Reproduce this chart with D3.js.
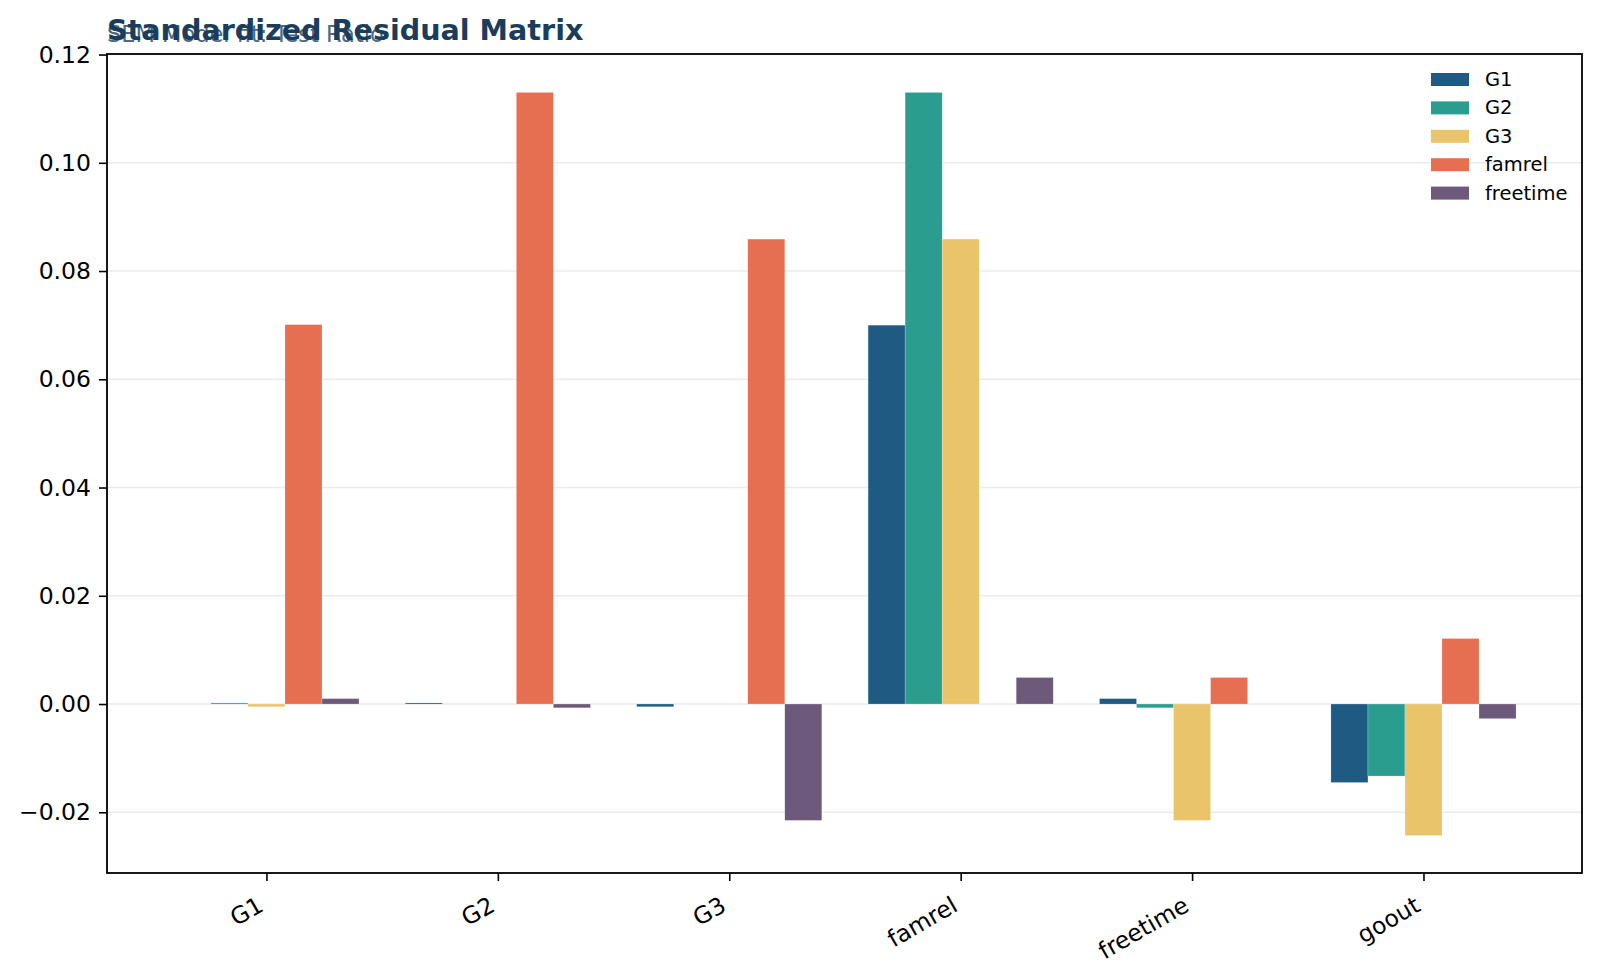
<!DOCTYPE html>
<html>
<head>
<meta charset="utf-8">
<script src="https://cdn.jsdelivr.net/npm/d3@7"></script>
<style>
  body { margin: 0; background: #fff; }
  text { font-family: "DejaVu Sans", sans-serif; }
</style>
</head>
<body>
<svg id="chart" width="1600" height="978"></svg>
<script>
/*
 * Data
 */
var CATEGORIES = ['G1', 'G2', 'G3', 'famrel', 'freetime', 'goout'];
var SERIES = ['G1', 'G2', 'G3', 'famrel', 'freetime'];
var COLORS = ['#1f5a82', '#2a9d8f', '#e9c46a', '#e76f51', '#6d597a'];

// one array per series, one value per category
var G1_VALUES       = [0.0000, 0.0002, -0.0005, 0.0700, 0.0010, -0.0145];
var G2_VALUES       = [0.0002, 0.0000, 0.0000, 0.1130, -0.0007, -0.0133];
var G3_VALUES       = [-0.0005, 0.0000, 0.0000, 0.0859, -0.0215, -0.0243];
var FAMREL_VALUES   = [0.0701, 0.1130, 0.0859, 0.0000, 0.0049, 0.0121];
var FREETIME_VALUES = [0.0010, -0.0007, -0.0215, 0.0049, 0.0000, -0.0027];

var Y_TICKS = [-0.02, 0, 0.02, 0.04, 0.06, 0.08, 0.10, 0.12];

var TITLE = 'Standardized Residual Matrix';
var SUBTITLE = 'SEM Model fit: Test Ratio';

/*
 * Layout
 */
var MARGIN = {left: 107, right: 18, top: 54, bottom: 105},
    WIDTH = 1600, HEIGHT = 978,
    TICK_FONT = '23.5px';

function main() {
    var svg = d3.select('#chart');
    var values = [G1_VALUES, G2_VALUES, G3_VALUES, FAMREL_VALUES, FREETIME_VALUES];

    var x = d3.scaleLinear()
        .domain([-0.689, CATEGORIES.length - 1 + 0.685])
        .range([MARGIN.left, WIDTH - MARGIN.right]);

    var y = d3.scaleLinear()
        .domain([-0.03122, 0.1201])
        .range([HEIGHT - MARGIN.bottom, MARGIN.top]);

    var groupWidth = 0.8,
        barW = groupWidth / SERIES.length;

    // gridlines
    svg.append('g').selectAll('line')
        .data(Y_TICKS)
        .enter().append('line')
        .attr('x1', MARGIN.left).attr('x2', WIDTH - MARGIN.right)
        .attr('y1', function (d) { return y(d); })
        .attr('y2', function (d) { return y(d); })
        .attr('stroke', '#ebebeb')
        .attr('stroke-width', 1.6);

    // bars
    SERIES.forEach(function (s, si) {
        svg.append('g').selectAll('rect')
            .data(values[si])
            .enter().append('rect')
            .attr('x', function (d, i) { return x(i - groupWidth / 2 + si * barW); })
            .attr('width', x(barW) - x(0))
            .attr('y', function (d) { return y(Math.max(0, d)); })
            .attr('height', function (d) { return Math.abs(y(d) - y(0)); })
            .attr('fill', COLORS[si])
            .attr('stroke', '#ffffff')
            .attr('stroke-opacity', 0.4)
            .attr('stroke-width', 0.5);
    });

    // axes
    var fmt = function (d) { return d3.format('.2f')(d).replace('-', '\u2212'); };

    var yAxis = svg.append('g')
        .attr('transform', 'translate(' + MARGIN.left + ',0)')
        .call(d3.axisLeft(y).tickValues(Y_TICKS).tickFormat(fmt).tickSize(8).tickPadding(8));

    var xAxis = svg.append('g')
        .attr('transform', 'translate(0,' + (HEIGHT - MARGIN.bottom) + ')')
        .call(d3.axisBottom(x).tickValues(d3.range(CATEGORIES.length))
            .tickFormat(function (d) { return CATEGORIES[d]; }).tickSize(8).tickPadding(5));

    [xAxis, yAxis].forEach(function (a) {
        a.select('.domain').remove();
        a.selectAll('.tick line').attr('stroke', '#000').attr('stroke-width', 1.6);
        a.selectAll('.tick text').attr('fill', '#000').style('font-size', TICK_FONT);
    });

    xAxis.selectAll('.tick text')
        .attr('text-anchor', 'end')
        .attr('x', 0).attr('y', 0)
        .attr('dy', null)
        .attr('transform', 'translate(-2,37) rotate(-30)');

    // frame
    svg.append('rect')
        .attr('x', MARGIN.left).attr('y', MARGIN.top)
        .attr('width', WIDTH - MARGIN.left - MARGIN.right)
        .attr('height', HEIGHT - MARGIN.top - MARGIN.bottom)
        .attr('fill', 'none')
        .attr('stroke', '#000')
        .attr('stroke-width', 1.8);

    // titles (the subtitle sits under the title, as in the original)
    svg.append('text')
        .attr('x', MARGIN.left).attr('y', 42)
        .attr('fill', '#4a6a85')
        .style('font-size', '22.5px')
        .text(SUBTITLE);

    svg.append('text')
        .attr('x', MARGIN.left).attr('y', 40)
        .attr('fill', '#1a3d5c')
        .style('font-size', '28.6px')
        .style('font-weight', 'bold')
        .text(TITLE);

    // legend
    var legend = svg.append('g')
        .attr('transform', 'translate(1431,73)');

    var rows = legend.selectAll('g')
        .data(SERIES)
        .enter().append('g')
        .attr('transform', function (d, i) { return 'translate(0,' + (i * 28.4) + ')'; });

    rows.append('rect')
        .attr('width', 38).attr('height', 13)
        .attr('fill', function (d, i) { return COLORS[i]; });

    rows.append('text')
        .attr('x', 54).attr('y', 13)
        .style('font-size', '19.5px')
        .attr('fill', '#000')
        .text(function (d) { return d; });
}

main();
</script>
</body>
</html>
